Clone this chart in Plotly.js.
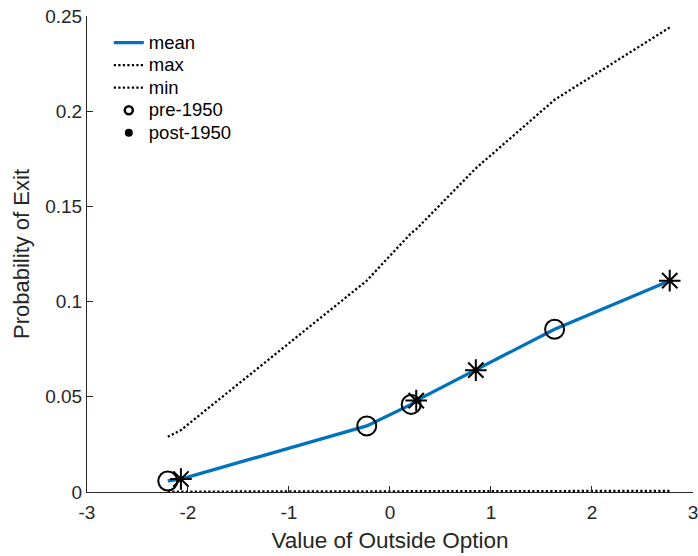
<!DOCTYPE html>
<html>
<head>
<meta charset="utf-8">
<script src="https://cdn.plot.ly/plotly-3.0.1.min.js"></script>
<style>html,body{margin:0;padding:0;background:#fff;}#chart{width:698px;height:556px;}</style>
</head>
<body>
<div id="chart"></div>
<script>
// Data
const meanX = [-2.2, -2.07, -0.23, 0.21, 0.26, 0.85, 1.63, 2.77];
const meanY = [0.0058, 0.0068, 0.0347, 0.046, 0.048, 0.064, 0.0855, 0.111];
const maxY  = [0.029, 0.0325, 0.111, 0.136, 0.138, 0.170, 0.206, 0.244];
const minY  = [0.0002, 0.0002, 0.0003, 0.0003, 0.0003, 0.0004, 0.0005, 0.0006];
const preX  = [-2.2, -0.23, 0.21, 1.63];
const preY  = [0.0058, 0.0347, 0.046, 0.0855];
const postX = [-2.07, 0.26, 0.85, 2.77];
const postY = [0.0068, 0.048, 0.064, 0.111];
const xTicks = [-3, -2, -1, 0, 1, 2, 3];
const yTicks = [0, 0.05, 0.1, 0.15, 0.2, 0.25];
const yTickText = ['0', '0.05', '0.1', '0.15', '0.2', '0.25'];
const legendNames = ['mean', 'max', 'min', 'pre-1950', 'post-1950'];

const FONT = 'Liberation Sans, Arial, Helvetica, sans-serif';
const AX = '#262626';
const lg = s => '<span style="font-size:18.5px">' + s + '</span>';

const traces = [
  {x: meanX, y: meanY, mode: 'lines', name: lg(legendNames[0]),
   line: {color: '#0072BD', width: 3.3}},
  {x: meanX, y: maxY, mode: 'lines', name: lg(legendNames[1]),
   line: {color: '#000', width: 2.3, dash: '2.2px,2.3px'}},
  {x: meanX, y: minY, mode: 'lines', name: lg(legendNames[2]),
   line: {color: '#000', width: 2.3, dash: '2.2px,2.3px'}},
  {x: preX, y: preY, mode: 'markers', name: legendNames[3], showlegend: false,
   marker: {symbol: 'circle-open', size: 19, color: '#000', line: {width: 2, color: '#000'}}},
  {x: postX, y: postY, mode: 'markers', name: legendNames[4], showlegend: false,
   marker: {symbol: 'asterisk-open', size: 18, color: '#000', line: {width: 2, color: '#000'}}},
  // legend entries (MATLAB-style small legend symbols)
  {x: [null], y: [null], mode: 'markers', name: lg(legendNames[3]),
   marker: {symbol: 'circle-open', size: 8, color: '#000', line: {width: 2.5, color: '#000'}}},
  {x: [null], y: [null], mode: 'markers', name: lg(legendNames[4]),
   marker: {symbol: 'circle', size: 8, color: '#000'}}
];

const layout = {
  width: 698, height: 556,
  margin: {l: 87, r: 5, t: 16, b: 64},
  paper_bgcolor: '#fff', plot_bgcolor: '#fff',
  font: {family: FONT, color: AX},
  showlegend: true,
  legend: {x: 0.036, y: 0.978, xanchor: 'left', yanchor: 'top',
           bgcolor: 'rgba(255,255,255,0)', borderwidth: 0,
           font: {family: FONT, size: 15, color: '#000'}, tracegroupgap: 0},
  xaxis: {
    range: [-3, 3.0005], tickvals: xTicks, ticktext: xTicks.map(String),
    ticks: 'inside', ticklen: 6, tickwidth: 1, tickcolor: AX,
    showline: true, linecolor: AX, linewidth: 1, mirror: false,
    showgrid: false, zeroline: false, ticklabeloverflow: 'allow', ticklabelstandoff: 3,
    tickfont: {family: FONT, size: 19, color: AX},
    title: {text: 'Value of Outside Option', font: {family: FONT, size: 22.5, color: AX}, standoff: 10}
  },
  yaxis: {
    range: [0, 0.25], tickvals: yTicks, ticktext: yTickText,
    ticks: 'inside', ticklen: 6, tickwidth: 1, tickcolor: AX,
    showline: true, linecolor: AX, linewidth: 1, mirror: false,
    showgrid: false, zeroline: false,
    tickfont: {family: FONT, size: 19, color: AX},
    title: {text: 'Probability of Exit', font: {family: FONT, size: 22, color: AX}, standoff: 9}
  }
};

Plotly.newPlot('chart', traces, layout, {displayModeBar: false, staticPlot: true});
</script>
</body>
</html>
